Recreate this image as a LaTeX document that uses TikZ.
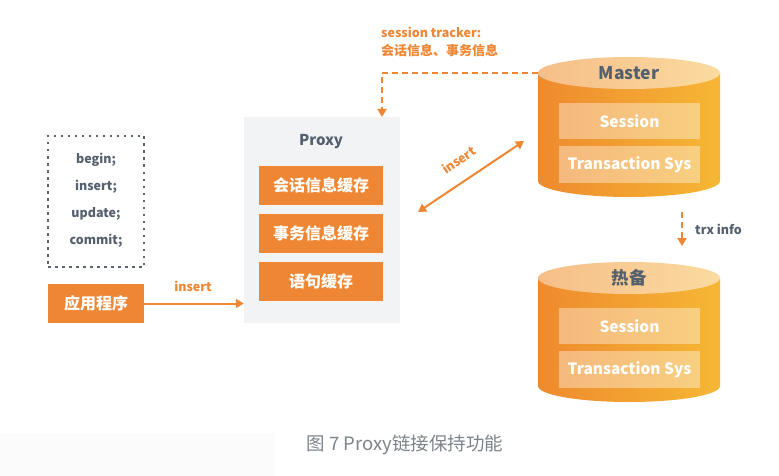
\documentclass[tikz,border=0pt]{standalone}
\usepackage{fontspec}
\setmainfont{Noto Sans CJK SC}
\usetikzlibrary{arrows.meta}
\definecolor{org}{HTML}{EE8633}
\definecolor{txtgray}{HTML}{55606E}
\definecolor{capgray}{HTML}{7E848B}
\definecolor{proxybg}{HTML}{F1F3F5}
\definecolor{dotgray}{HTML}{5A6470}
\definecolor{cylL}{HTML}{EE8A2E}
\definecolor{cylR}{HTML}{F6B734}
\definecolor{topL}{HTML}{F6BE88}
\definecolor{topR}{HTML}{FADBA0}
\definecolor{capbg}{HTML}{FBFBFC}
\newcommand{\mycylinder}[1]{%
  \begin{scope}[shift={(0,#1)}]
    \shade[left color=cylL,right color=cylR]
      (538,73) -- (538,181) arc[start angle=180,end angle=0,x radius=91,y radius=16] -- (720,73) -- cycle;
    \shade[left color=topL,right color=topR] (629,73) ellipse[x radius=91,y radius=16];
    \fill[white,fill opacity=0.38] (559,103) rectangle (700,139);
    \fill[white,fill opacity=0.38] (559,146) rectangle (700,183);
  \end{scope}}
\begin{document}
\begin{tikzpicture}[x=1pt,y=-1pt,
  lbl/.style={font=\bfseries\fontsize{12.5}{14}\selectfont,text=txtgray,inner sep=0pt},
  olbl/.style={font=\bfseries\fontsize{12.5}{14}\selectfont,text=org,inner sep=0pt},
  obox/.style={fill=org,text=white,font=\bfseries\fontsize{16}{18}\selectfont,minimum width=124pt,minimum height=39pt,inner sep=0pt},
  cyltxt/.style={text=white,font=\bfseries\fontsize{15.5}{17}\selectfont,inner sep=0pt},
  cyltitle/.style={text=txtgray,font=\bfseries\fontsize{17.5}{19}\selectfont,inner sep=0pt},
  oarrow/.style={draw=org,line width=2pt,-{Triangle[length=8pt,width=9pt]}},
  odarrow/.style={draw=org,line width=2pt,{Triangle[length=8pt,width=9pt]}-{Triangle[length=8pt,width=9pt]}},
  dasharrow/.style={draw=org,line width=2pt,dash pattern=on 6pt off 4pt,-{Triangle[length=8pt,width=9pt]}}]
\useasboundingbox (0,0) rectangle (779,476);
\fill[white] (0,0) rectangle (779,476);
\fill[capbg] (0,433) rectangle (275,476);

% SQL dotted box
\node[draw=dotgray,line width=2pt,dash pattern=on 2.5pt off 4.5pt,minimum width=96pt,minimum height=131pt,inner sep=0pt] (sql) at (96,201.5) {};
\node[lbl] (s1) at (96,160) {begin;};
\node[lbl] (s2) at (96,187) {insert;};
\node[lbl] (s3) at (96,214) {update;};
\node[lbl] (s4) at (96,241) {commit;};

% application
\node[obox,minimum width=96pt] (app) at (96,303.5) {应用程序};

% proxy
\node[fill=proxybg,minimum width=156pt,minimum height=206pt,inner sep=0pt] (proxy) at (322,220) {};
\node[font=\bfseries\fontsize{15}{17}\selectfont,text=txtgray,inner sep=0pt] (ptitle) at (321,142) {Proxy};
\node[obox] (c1) at (321,185.5) {会话信息缓存};
\node[obox] (c2) at (321,233.5) {事务信息缓存};
\node[obox] (c3) at (321,281.5) {语句缓存};

\draw[oarrow] (app.east) -- (proxy.west |- app.east);
\node[olbl] (lins1) at (193,286) {insert};

% cylinders
\mycylinder{0}
\mycylinder{205}
\node[cyltitle] (master) at (629,73) {Master};
\node[cyltxt] (m1) at (629.5,121) {Session};
\node[cyltxt] (m2) at (629.5,164.5) {Transaction Sys};
\node[cyltitle] (hot) at (629,278) {热备};
\node[cyltxt] (h1) at (629.5,326) {Session};
\node[cyltxt] (h2) at (629.5,369.5) {Transaction Sys};

% session tracker
\node[olbl,anchor=west] (st1) at (381,32) {session tracker:};
\node[olbl,anchor=west,font=\bfseries\fontsize{13}{15}\selectfont] (st2) at (381,51) {会话信息、事务信息};
\coordinate (mleft) at (538,73);
\coordinate (ptop) at (382,117);
\draw[dasharrow] (mleft) -- (ptop |- mleft) -- (ptop);

% insert double arrow
\coordinate (da1) at (418,212);
\coordinate (da2) at (524,141);
\draw[odarrow] (da1) -- (da2);
\node[olbl,rotate=34] (lins2) at (459,160) {insert};

% trx info
\coordinate (t1) at (682,212);
\coordinate (t2) at (682,246);
\draw[dasharrow] (t1) -- (t2);
\node[lbl,anchor=west] (trx) at (695,229) {trx info};

% caption
\node[text=capgray,font=\fontsize{18.5}{20}\selectfont,inner sep=0pt] (cap) at (405,445) {图 7 Proxy链接保持功能};
\end{tikzpicture}
\end{document}
